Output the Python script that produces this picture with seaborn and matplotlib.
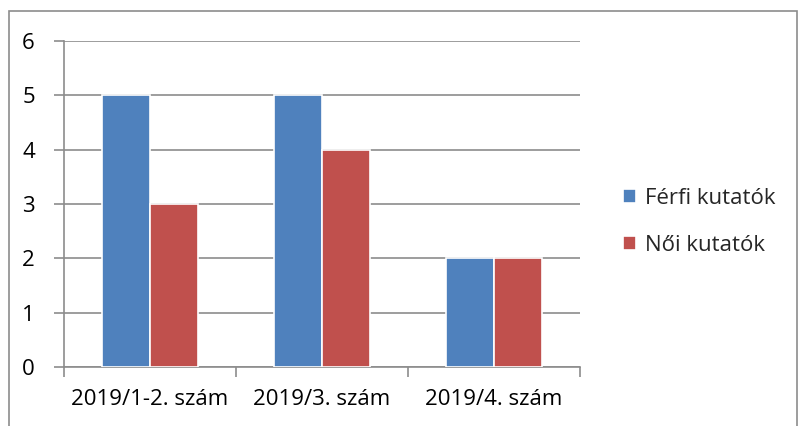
import matplotlib
matplotlib.use("Agg")
from matplotlib import pyplot as plt
from matplotlib.patches import Rectangle
import seaborn as sns
import pandas as pd

categories = ['2019/1-2. szám', '2019/3. szám', '2019/4. szám']
series_names = ['Férfi kutatók', 'Női kutatók']
ferfi = [5, 5, 2]
noi = [3, 4, 2]
colors = ['#4F81BD', '#C0504D']

df = pd.DataFrame({
    'kategoria': categories * 2,
    'ertek': ferfi + noi,
    'sorozat': [series_names[0]] * 3 + [series_names[1]] * 3,
})

sns.set_style('white')
plt.rcParams['font.family'] = ['Open Sans', 'DejaVu Sans']
fs = 16

fig = plt.figure(figsize=(7.99, 4.26), dpi=100)
ax = fig.add_axes([0.0801, 0.1385, 0.6458, 0.7653])

sns.barplot(data=df, x='kategoria', y='ertek', hue='sorozat', palette=colors,
            saturation=1, width=0.56, gap=0, edgecolor='white', linewidth=1.2,
            ax=ax, zorder=3)

ax.set_xlim(-0.5, 2.5)
ax.set_ylim(0, 6)
ax.set_yticks(range(0, 7))
ax.set_xlabel('')
ax.set_ylabel('')
ax.grid(axis='y', color='#8c8c8c', linewidth=1.2, zorder=0)
ax.set_axisbelow(True)

for side in ['top', 'right']:
    ax.spines[side].set_visible(False)
for side in ['left', 'bottom']:
    ax.spines[side].set_color('#8c8c8c')
    ax.spines[side].set_linewidth(1.2)

ax.tick_params(axis='y', which='major', length=7, width=1.2, color='#8c8c8c',
               pad=14, labelsize=fs, labelcolor='black', left=True)
ax.tick_params(axis='x', which='major', length=0, pad=16, labelsize=fs,
               labelcolor='black')
ax.set_xticks([-0.5, 0.5, 1.5, 2.5], minor=True)
ax.tick_params(axis='x', which='minor', length=7, width=1.2, color='#8c8c8c',
               bottom=True)

ax.legend(loc='center left', bbox_to_anchor=(1.083, 0.445), frameon=False,
          fontsize=fs, handlelength=0.6, handleheight=0.6, handletextpad=0.4,
          labelspacing=1.15, borderpad=0, borderaxespad=0)

fig.patches.append(Rectangle((9 / 799, -0.1), 788 / 799, 1.1 - 11 / 426,
                             transform=fig.transFigure, fill=False,
                             edgecolor='#8c8c8c', linewidth=1.2))

fig.savefig('out.png', dpi=100)
